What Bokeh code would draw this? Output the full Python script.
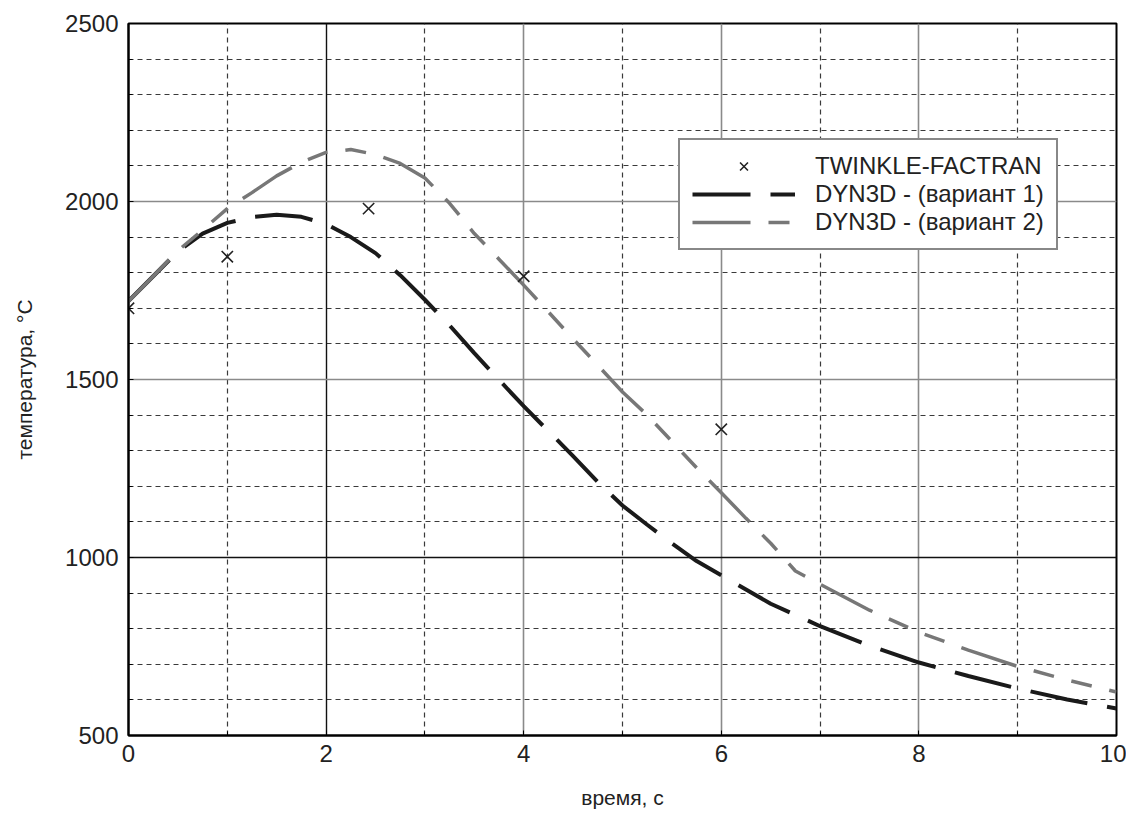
from bokeh.plotting import figure
from bokeh.models import Range1d, FixedTicker, Grid, Legend, LegendItem
from bokeh.embed import file_html
from bokeh.resources import INLINE

# ---- data ----
marker_t = [0, 1, 2.43, 4, 6]
marker_T = [1700, 1845, 1980, 1790, 1360]

v1_t = [0, 0.25, 0.5, 0.75, 1.0, 1.25, 1.5, 1.75, 2.0, 2.25, 2.5, 2.75, 3.0, 3.25, 3.5,
        3.75, 4.0, 4.25, 4.5, 4.75, 5.0, 5.25, 5.5, 5.75, 6.0, 6.5, 7.0, 7.5, 8.0, 8.5,
        9.0, 9.5, 10.0]
v1_T = [1720, 1790, 1860, 1910, 1940, 1956, 1963, 1957, 1937, 1900, 1855, 1793, 1724, 1652, 1574,
        1499, 1425, 1355, 1285, 1212, 1146, 1092, 1040, 990, 950, 870, 807, 752, 705, 667,
        632, 601, 576]

v2_t = [0, 0.25, 0.5, 0.75, 1.0, 1.25, 1.5, 1.75, 2.0, 2.25, 2.5, 2.75, 3.0, 3.25, 3.5,
        3.75, 4.0, 4.25, 4.5, 4.75, 5.0, 5.25, 5.5, 5.75, 6.0, 6.25, 6.5, 6.63, 6.75, 7.0,
        7.5, 8.0, 8.5, 9.0, 9.5, 10.0]
v2_T = [1720, 1790, 1862, 1920, 1980, 2025, 2072, 2110, 2138, 2146, 2132, 2107, 2066, 1995, 1910,
        1838, 1765, 1690, 1614, 1540, 1465, 1400, 1326, 1252, 1182, 1110, 1040, 1000, 962, 925,
        852, 790, 740, 694, 656, 622]

x_major = [0, 2, 4, 6, 8, 10]
x_minor = [1, 3, 5, 7, 9]
y_major = [500, 1000, 1500, 2000, 2500]
y_minor = [v for v in range(600, 2500, 100) if v % 500 != 0]

labels = ["TWINKLE-FACTRAN", "DYN3D - (вариант 1)", "DYN3D - (вариант 2)"]
x_title = "время, с"
y_title = "температура, °C"

FONT = "Liberation Sans"

p = figure(output_backend="svg", toolbar_location=None,
           frame_width=988, frame_height=712,
           min_border_left=128, min_border_top=23, min_border_right=10, min_border_bottom=76,
           x_range=Range1d(0, 10), y_range=Range1d(500, 2500))

p.background_fill_color = "white"
p.border_fill_color = "white"
p.outline_line_color = "black"
p.outline_line_width = 2
p.grid.grid_line_color = None

# grids
def add_grid(dim, ticks, color, dash, width=1.2):
    g = Grid(dimension=dim, ticker=FixedTicker(ticks=ticks), grid_line_color=color,
             grid_line_dash=dash, grid_line_width=width)
    p.add_layout(g)

add_grid(0, x_minor, "#3a3a3a", "5 4")
add_grid(1, y_minor, "#3a3a3a", "5 4")
add_grid(0, [2], "#111111", "solid", 1.4)
add_grid(0, [4, 6, 8], "#8a8a8a", "solid", 1.6)
add_grid(1, [1000], "#111111", "solid", 1.4)
add_grid(1, [1500, 2000], "#8a8a8a", "solid", 1.6)

for ax, maj, mnr in ((p.xaxis[0], x_major, x_minor), (p.yaxis[0], y_major, y_minor)):
    ax.ticker = FixedTicker(ticks=maj, minor_ticks=mnr)
    ax.axis_line_width = 2
    ax.axis_line_color = "black"
    ax.major_tick_in = 5
    ax.major_tick_out = 0
    ax.minor_tick_in = 4
    ax.minor_tick_out = 0
    ax.major_tick_line_color = "black"
    ax.minor_tick_line_color = "black"
    ax.major_label_text_font = FONT
    ax.major_label_text_font_size = "24px"
    ax.major_label_text_color = "#222222"
    ax.axis_label_text_font = FONT
    ax.axis_label_text_font_size = "21px"
    ax.axis_label_text_font_style = "normal"
    ax.axis_label_text_color = "#222222"

p.xaxis.major_label_standoff = 9
p.yaxis.major_label_standoff = 10
p.xaxis.axis_label = x_title
p.yaxis.axis_label = y_title
p.xaxis.axis_label_standoff = 21
p.yaxis.axis_label_standoff = 26

r1 = p.line(v1_t, v1_T, line_color="#1a1a1a", line_width=4, line_dash="58 20")
r2 = p.line(v2_t, v2_T, line_color="#777777", line_width=3.5, line_dash="58 18 21 18 21 18")
r0 = p.scatter(marker_t, marker_T, marker="x", size=16, line_color="#222222", line_width=1.6)

legend = Legend(items=[LegendItem(label=labels[0], renderers=[r0]),
                       LegendItem(label=labels[1], renderers=[r1]),
                       LegendItem(label=labels[2], renderers=[r2])],
                location=(550, 485), padding=12, spacing=0,
                glyph_width=103, glyph_height=28, label_height=28, label_standoff=20,
                label_text_font=FONT, label_text_font_size="24px", label_text_color="#222222",
                border_line_color="#111111", border_line_width=2,
                background_fill_color="white", background_fill_alpha=1.0, margin=0)
p.add_layout(legend)

open("out.html", "w").write(file_html(p, INLINE))
